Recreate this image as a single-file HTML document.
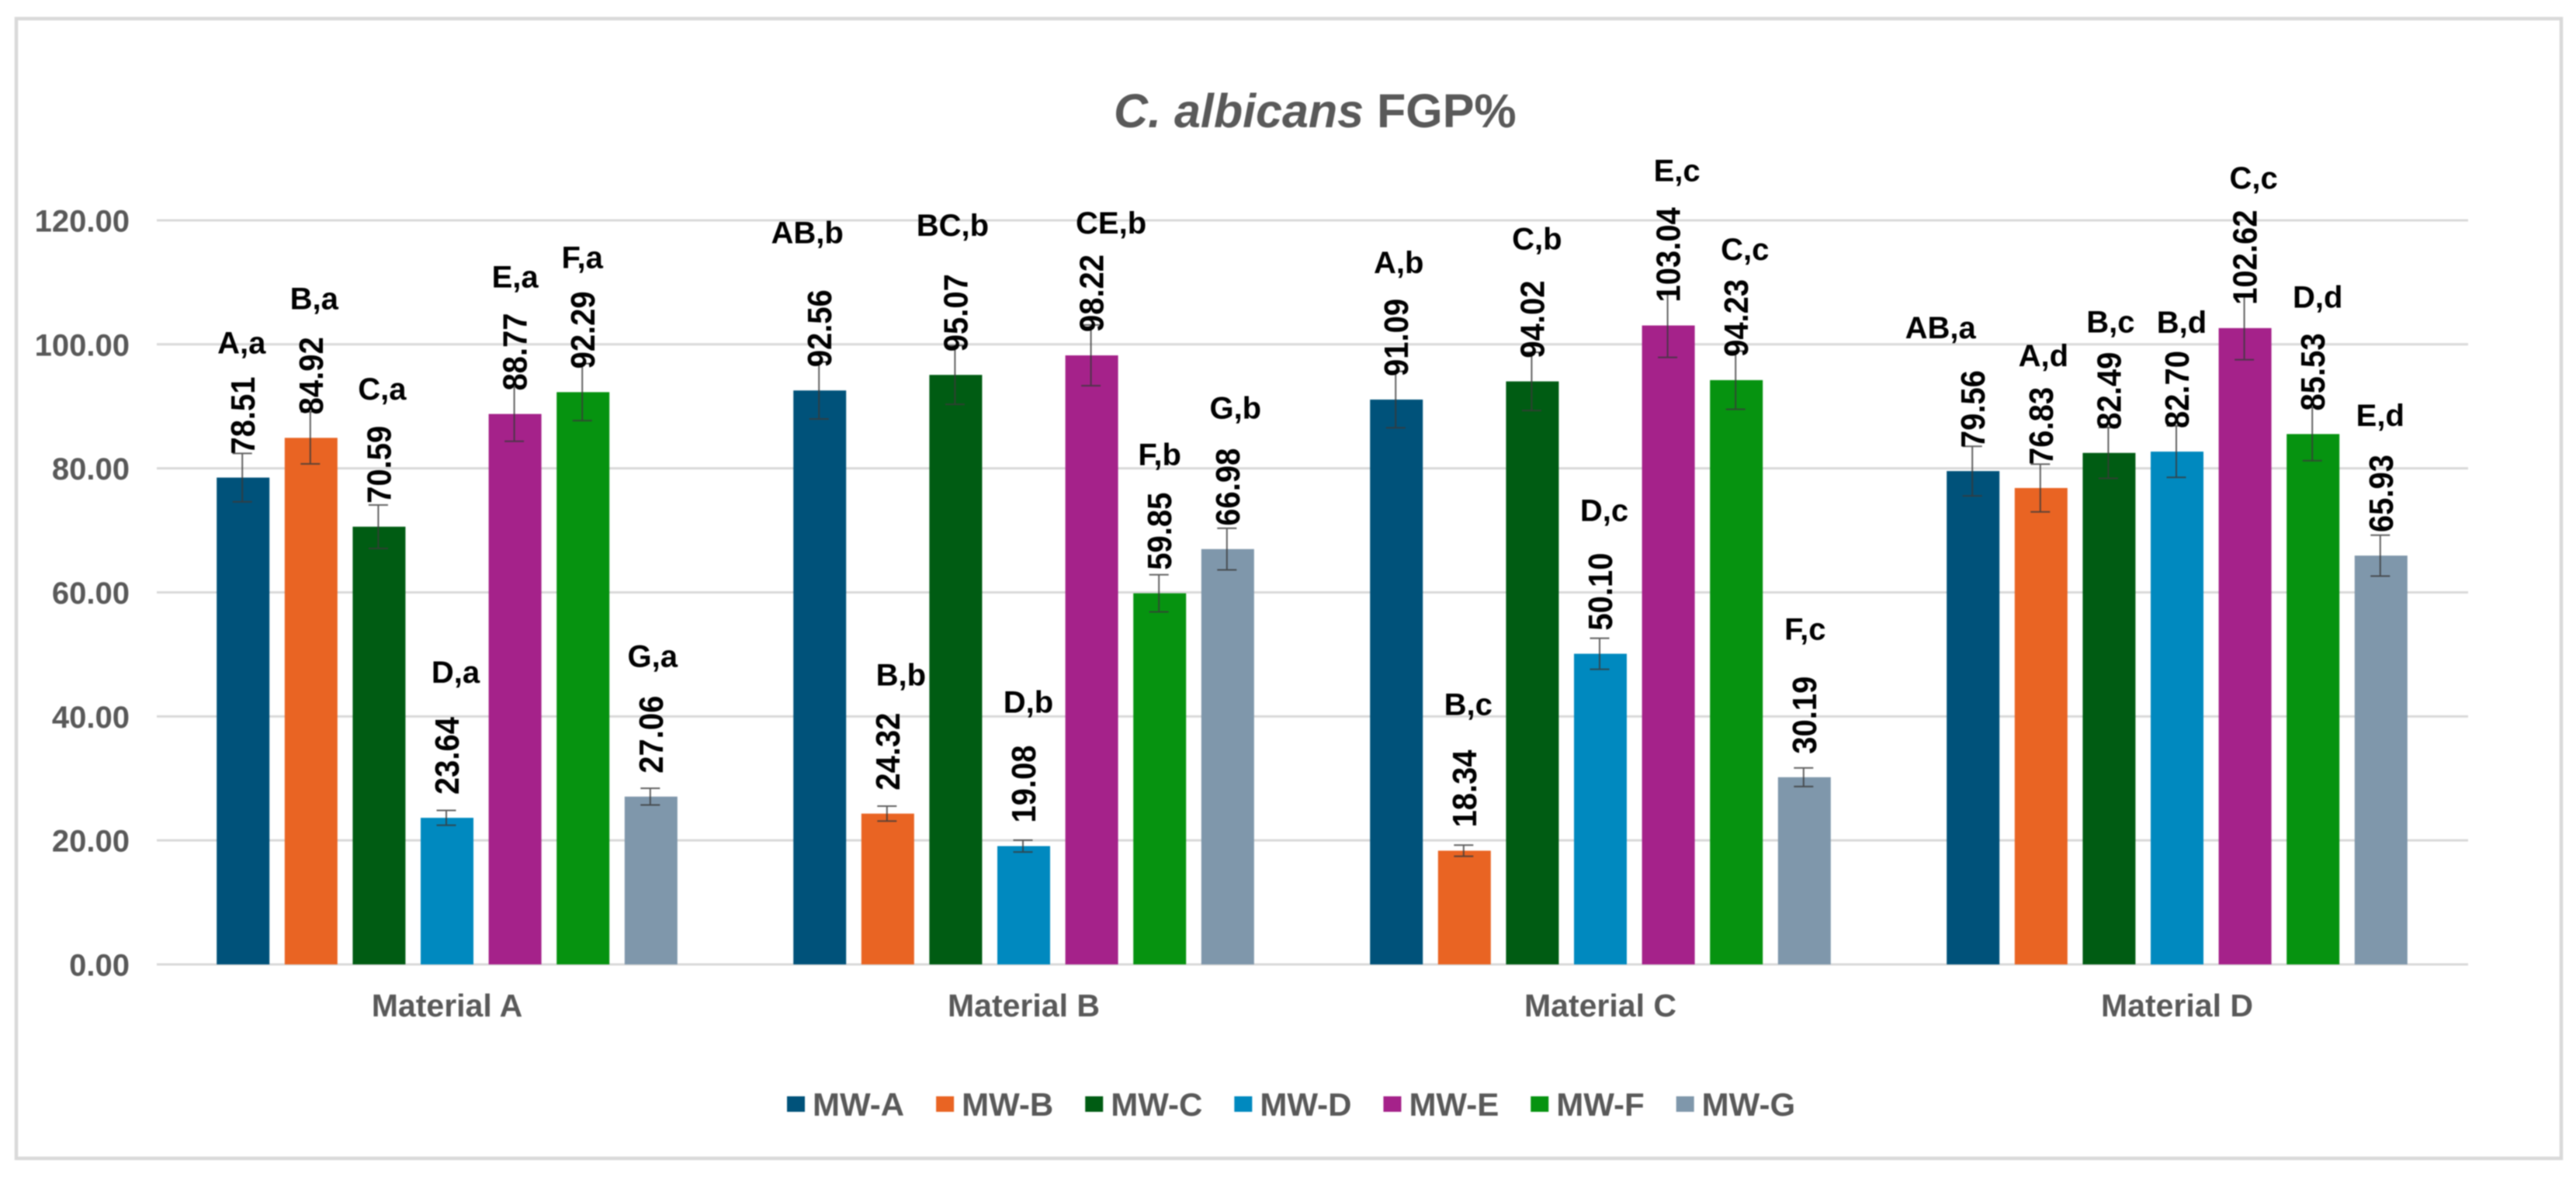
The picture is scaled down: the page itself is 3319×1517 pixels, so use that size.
<!DOCTYPE html>
<html lang="en">
<head>
<meta charset="utf-8">
<title>C. albicans FGP%</title>
<style>
  html, body { margin: 0; padding: 0; background: #fff; }
  svg { display: block; font-family: "Liberation Sans", Arial, sans-serif; filter: blur(0.7px); }
</style>
</head>
<body>
<svg id="chart" xmlns="http://www.w3.org/2000/svg" width="3319" height="1517" viewBox="0 0 3319 1517">
  <rect x="0" y="0" width="3319" height="1517" fill="#ffffff"/>
  <rect x="21" y="24" width="3279" height="1469" fill="#ffffff" stroke="#d9d9d9" stroke-width="4.5"/>
  <text x="1435" y="164" font-size="61" font-weight="bold" fill="#595959"><tspan font-style="italic">C. albicans </tspan><tspan>FGP%</tspan></text>
  <g id="grid"></g>
  <g id="yaxis"></g>
  <g id="bars"></g>
  <g id="errors"></g>
  <g id="labels"></g>
  <g id="xaxis"></g>
  <g id="legend"></g>
</svg>
<script>
/* ---------- chart data ---------- */
const categories = ['Material A', 'Material B', 'Material C', 'Material D'];
const seriesNames = ['MW-A', 'MW-B', 'MW-C', 'MW-D', 'MW-E', 'MW-F', 'MW-G'];
const seriesColors = ['#00527a', '#e96423', '#005c13', '#0089bf', '#a5228a', '#069310', '#7f97ab'];
const yTicks = [0, 20, 40, 60, 80, 100, 120];

const materialA = [78.51, 84.92, 70.59, 23.64, 88.77, 92.29, 27.06];
const materialB = [92.56, 24.32, 95.07, 19.08, 98.22, 59.85, 66.98];
const materialC = [91.09, 18.34, 94.02, 50.10, 103.04, 94.23, 30.19];
const materialD = [79.56, 76.83, 82.49, 82.70, 102.62, 85.53, 65.93];

const errorsA = [3.9, 4.2, 3.5, 1.2, 4.4, 4.6, 1.35];
const errorsB = [4.6, 1.2, 4.75, 0.95, 4.9, 3.0, 3.35];
const errorsC = [4.55, 0.9, 4.7, 2.5, 5.15, 4.7, 1.5];
const errorsD = [4.0, 3.85, 4.1, 4.15, 5.1, 4.3, 3.3];

const lettersA = ['A,a', 'B,a', 'C,a', 'D,a', 'E,a', 'F,a', 'G,a'];
const lettersB = ['AB,b', 'B,b', 'BC,b', 'D,b', 'CE,b', 'F,b', 'G,b'];
const lettersC = ['A,b', 'B,c', 'C,b', 'D,c', 'E,c', 'C,c', 'F,c'];
const lettersD = ['AB,a', 'A,d', 'B,c', 'B,d', 'C,c', 'D,d', 'E,d'];

const values = [materialA, materialB, materialC, materialD];
const errors = [errorsA, errorsB, errorsC, errorsD];
const letters = [lettersA, lettersB, lettersC, lettersD];

/* ---------- layout ---------- */
const plotLeft = 202, plotRight = 3180, y0 = 1243, pxPerUnit = 7.992;
const groupOrigin = 576, groupPitch = 743, barPitch = 87.6, barWidth = 68, capWidth = 25;
const valueFont = 40, valueClearance = 30;
const NS = 'http://www.w3.org/2000/svg';

/* hand-placed letter annotations: offset from the value label they belong to */
const letterGap = [
  [30, 36, 34, 44, 33, 30, 37],
  [60, 35, 49, 42, 27, 35, 38],
  [33, 45, 40, 41, 32, 25, 47],
  [41, 27, 25, 23, 26, 33, 37]
];
const letterShift = [
  [-2, 4, 4, 11, 0, -1, 2],
  [-16, 17, -4, 6, 25, 0, 10],
  [3, 5, 6, 5, 11, 11, 1],
  [-42, 3, 2, 6, 11, 6, -1]
];

function yScale(v) { return y0 - v * pxPerUnit; }
function groupX(g) { return groupOrigin + g * groupPitch; }
function barX(g, s) { return groupX(g) + (s - 3) * barPitch; }
function make(tag, attrs, parent, text) {
  const el = document.createElementNS(NS, tag);
  for (const k in attrs) el.setAttribute(k, attrs[k]);
  if (text !== undefined) el.textContent = text;
  parent.appendChild(el);
  return el;
}

const gridG = document.getElementById('grid');
const yG = document.getElementById('yaxis');
const barsG = document.getElementById('bars');
const errG = document.getElementById('errors');
const labG = document.getElementById('labels');
const xG = document.getElementById('xaxis');
const legG = document.getElementById('legend');

yTicks.forEach(function (t) {
  const y = yScale(t);
  const line = make('line', { x1: plotLeft, x2: plotRight, y1: y, y2: y, stroke: '#d9d9d9', 'stroke-width': 3 }, gridG);
  
  
  const label = make('text', { x: 167, y: y + 14.5, 'text-anchor': 'end', 'font-size': 40, 'font-weight': 'bold', fill: '#595959' }, yG, t.toFixed(2));
  
  
});

categories.forEach(function (cat, g) {
  const catLabel = make('text', { x: groupX(g), y: 1310, 'text-anchor': 'middle', 'font-size': 41, 'font-weight': 'bold', fill: '#595959' }, xG, cat);
  
  

  seriesNames.forEach(function (name, s) {
    const v = values[g][s], e = errors[g][s], cx = barX(g, s), top = yScale(v);
    const bar = make('rect', { x: cx - barWidth / 2, y: top, width: barWidth, height: y0 - top, fill: seriesColors[s] }, barsG);
    
    

    const eTop = yScale(v + e), eBot = yScale(v - e), ex = cx - 1;
    const err = make('path', {
      d: 'M' + ex + ' ' + eTop + 'V' + eBot + 'M' + (ex - capWidth / 2) + ' ' + eTop + 'H' + (ex + capWidth / 2) + 'M' + (ex - capWidth / 2) + ' ' + eBot + 'H' + (ex + capWidth / 2),
      stroke: '#3a3a3a', 'stroke-width': 2, 'stroke-opacity': 0.8, fill: 'none'
    }, errG);
    
    

    const valueBottom = top - valueClearance;
    const valueLabel = make('text', {
      transform: 'translate(' + (cx + 15) + ' ' + valueBottom + ') rotate(-90) scale(1 1.1)',
      'font-size': valueFont, 'font-weight': 'bold', fill: '#000000'
    }, labG, v.toFixed(2));
    
    

    const valueTop = valueBottom - valueFont * (v >= 100 ? 3.1 : 2.5);
    const letterLabel = make('text', {
      x: cx + letterShift[g][s], y: valueTop - letterGap[g][s],
      'text-anchor': 'middle', 'font-size': 40, 'font-weight': 'bold', fill: '#000000'
    }, labG, letters[g][s]);
    
    
  });
});

let legendX = 1014;
seriesNames.forEach(function (name, s) {
  const entry = make('g', {}, legG);
  
  
  const swatch = make('rect', { x: legendX, y: 1413, width: 23, height: 20, fill: seriesColors[s] }, entry);
  
  
  const label = make('text', { x: legendX + 33, y: 1438, 'font-size': 42, 'font-weight': 'bold', fill: '#595959' }, entry, name);
  
  
  legendX += 33 + label.getComputedTextLength() + 41;
});
</script>
</body>
</html>
